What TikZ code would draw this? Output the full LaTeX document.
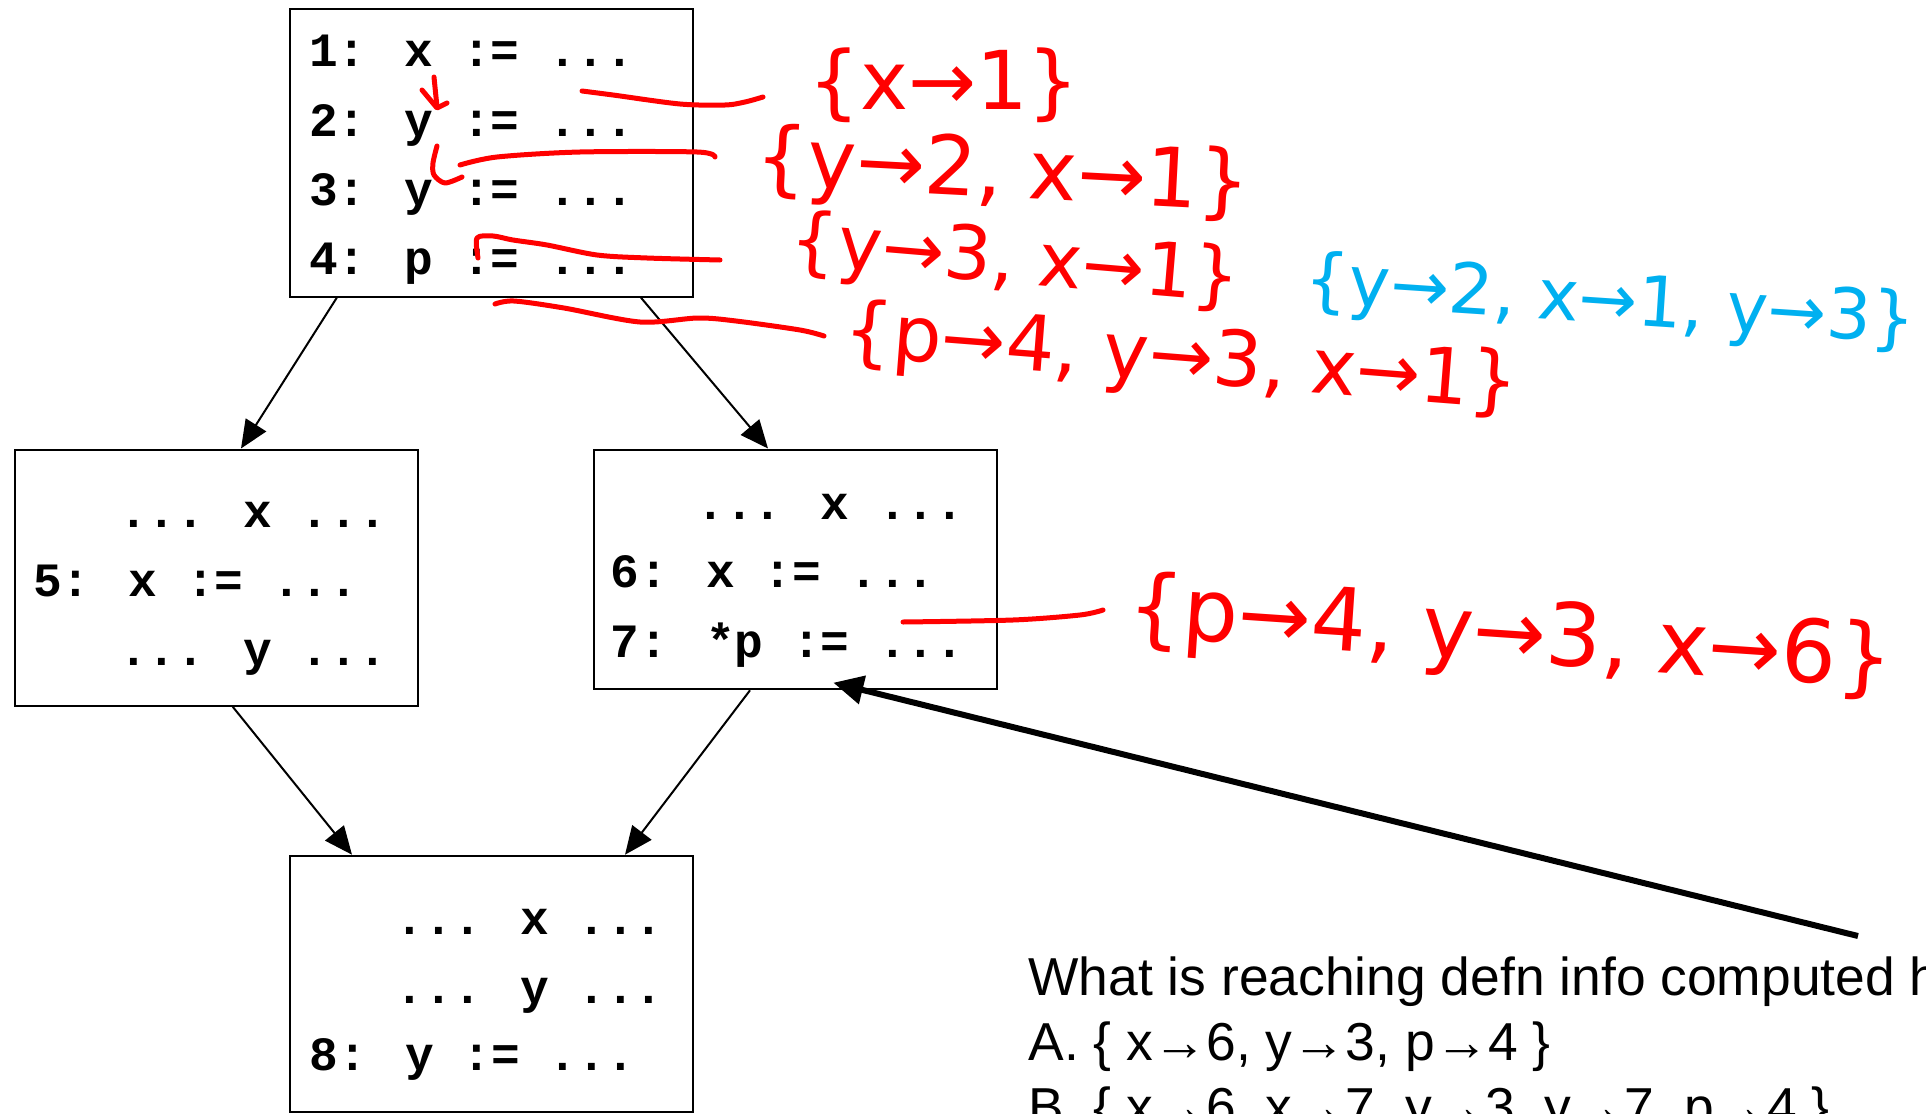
\documentclass[tikz,border=0pt]{standalone}
\usepackage{fontspec}
\usetikzlibrary{arrows.meta,calc}
\newfontfamily\codefont{Liberation Mono}
\newfontfamily\qfont{Liberation Sans}
\newfontfamily\hwfont{DejaVu Sans}
\definecolor{inkred}{RGB}{255,0,0}
\definecolor{inkblue}{RGB}{0,176,240}
\tikzset{
  blockbox/.style={draw=black, line width=1pt, rectangle, inner sep=0pt},
  codeline/.style={anchor=base west, inner sep=0pt, font=\codefont\bfseries\fontsize{23.9}{28}\selectfont},
  qtext/.style={anchor=base west, inner sep=0pt, font=\qfont\fontsize{26.7}{32}\selectfont},
  flow/.style={draw=black, line width=1pt, -{Triangle[length=14pt,width=12pt]}},
  pointer/.style={draw=black, line width=3pt, -{Triangle[length=15pt,width=14pt]}},
  ink/.style={draw=inkred, line width=2.5pt, line cap=round, line join=round},
  hw/.style={inner sep=0pt, text=inkred},
}
\begin{document}
\begin{tikzpicture}[x=0.5pt,y=-0.5pt]
\useasboundingbox (0,0) rectangle (1926,1113);
\fill[white] (0,0) rectangle (1926,1113);
\clip (0,0) rectangle (1926,1113);

% blocks
\node[blockbox, minimum width=201.5pt, minimum height=143.85pt] (b1) at (491.5,152.85) {};
\node[blockbox, minimum width=201.2pt, minimum height=128.1pt] (b5) at (216.5,577.6) {};
\node[blockbox, minimum width=201.5pt, minimum height=119.9pt] (b6) at (795.2,569.4) {};
\node[blockbox, minimum width=201.5pt, minimum height=128pt] (b8) at (491.5,983.7) {};

% code lines
\node[codeline] (l1) at (308.7,67) {1: x := ...};
\node[codeline] (l2) at (308.7,136) {2: y := ...};
\node[codeline] (l3) at (308.7,205) {3: y := ...};
\node[codeline] (l4) at (308.7,274) {4: p := ...};

\node[codeline] (u5a) at (118.8,527) {... x ...};
\node[codeline] (l5) at (32.7,596) {5: x := ...};
\node[codeline] (u5b) at (118.8,665) {... y ...};

\node[codeline] (u6) at (696,519) {... x ...};
\node[codeline] (l6) at (610,587) {6: x := ...};
\node[codeline] (l7) at (610,657) {7: *p := ...};

\node[codeline] (u8a) at (395.4,934) {... x ...};
\node[codeline] (u8b) at (395.4,1003.5) {... y ...};
\node[codeline] (l8) at (309.3,1070) {8: y := ...};

% flow edges
\draw[flow] ($(b1.south west)+(47.8,0)$) -- ($(b5.north west)+(226.7,0)$);
\draw[flow] ($(b1.south west)+(352,0)$) -- ($(b6.north west)+(175.3,0)$);
\draw[flow] ($(b5.south west)+(218.4,0)$) -- ($(b8.north west)+(63,0)$);
\draw[flow] ($(b6.south west)+(157.3,0)$) -- ($(b8.north west)+(336,0)$);

% question
\node[qtext] (q0) at (1028,995) {What is reaching defn info computed h};
\node[qtext] (qa) at (1028,1060) {A. \{ x→6, y→3, p→4 \}};
\node[qtext] (qb) at (1028,1125) {B. \{ x→6, x→7, y→3, y→7, p→4 \}};
\coordinate (qtail) at (1858,936);
\draw[pointer] (qtail) -- ($(b6.south west)+(240.6,-7.6)$);

% handwritten annotations
\draw[ink] plot[smooth] coordinates {(582,91) (613,95) (680,104) (725,105) (745,102) (763,97)};
\draw[ink] plot[smooth] coordinates {(460,165) (497,157) (580,152) (697,152) (715,157)};
\draw[ink] plot[smooth] coordinates {(437,146) (433,163) (434,175) (445,183) (462,177)};
\draw[ink] (434,77) -- (437,107);
\draw[ink] (422,90) -- (437,108) -- (447,103);
\draw[ink] plot[smooth] coordinates {(478,258) (477,238) (493,236) (513,240) (547,245) (597,255) (647,258) (720,260)};
\draw[ink] plot[smooth] coordinates {(495,304) (514,301) (564,308) (640,322) (698,318) (736,321) (800,330) (824,336)};
\draw[ink] plot[smooth] coordinates {(903,622) (1013,620) (1080,615) (1103,610)};

\node[hw, font=\hwfont\fontsize{40.6}{48}\selectfont] (s1) at (944,85) {\{x→1\}};
\node[hw, rotate=-3, font=\hwfont\fontsize{41}{48}\selectfont] (s2) at (1003,175) {\{y→2, x→1\}};
\node[hw, rotate=-4.8, font=\hwfont\fontsize{37.3}{44}\selectfont] (s3) at (1015,263) {\{y→3, x→1\}};
\node[hw, rotate=-4.5, font=\hwfont\fontsize{38.5}{46}\selectfont] (s4) at (1181,361) {\{p→4, y→3, x→1\}};
\node[hw, rotate=-3.8, text=inkblue, font=\hwfont\fontsize{35}{42}\selectfont] (s5) at (1610,304) {\{y→2, x→1, y→3\}};
\node[hw, rotate=-3.9, font=\hwfont\fontsize{43.6}{52}\selectfont] (s6) at (1510,638) {\{p→4, y→3, x→6\}};
\end{tikzpicture}
\end{document}
